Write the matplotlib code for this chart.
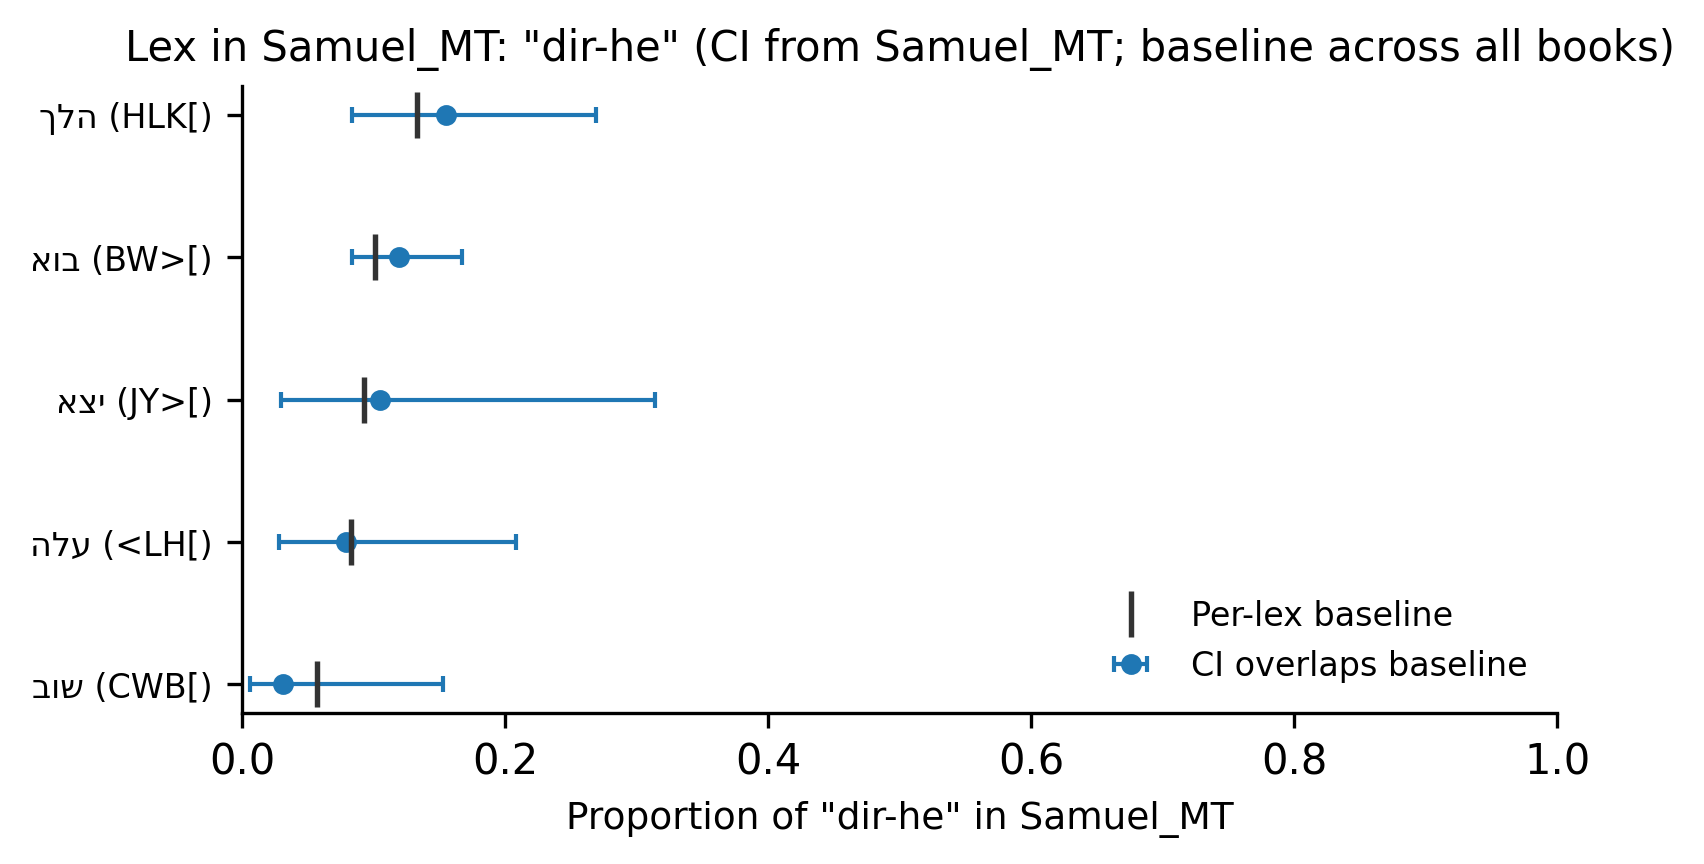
import numpy as np
import matplotlib.pyplot as plt

book = 'Samuel_MT'
feature = 'dir-he'

# --- Lexemes (Hebrew in logical order) and their ETCBC codes ---
lexWords = ['הלך', 'בוא', 'יצא', 'עלה', 'שוב']
lexCodes = ['HLK[', 'BW>[', 'JY>[', '<LH[', 'CWB[']

# --- Proportions ---
propBook = [0.155, 0.119, 0.105, 0.079, 0.031]
ciLow = [0.084, 0.084, 0.030, 0.028, 0.006]
ciHigh = [0.269, 0.167, 0.314, 0.208, 0.153]
baseline = [0.133, 0.101, 0.093, 0.083, 0.057]

# matplotlib has no bidi support, so reverse the Hebrew for display
labels = [f'{w[::-1]} ({c})' for w, c in zip(lexWords, lexCodes)]

propBook = np.array(propBook)
errLow = propBook - np.array(ciLow)
errHigh = np.array(ciHigh) - propBook
yPos = np.arange(len(labels))

fig, ax = plt.subplots(figsize=(5.68, 2.88), dpi=300)

ax.errorbar(propBook, yPos, xerr=[errLow, errHigh], fmt='o', color='#1f77b4',
            ecolor='#1f77b4', markersize=4, elinewidth=1, capsize=2,
            capthick=1, label='CI overlaps baseline', zorder=2)
ax.plot(baseline, yPos, linestyle='none', marker='|', color='#333333',
        markersize=11, markeredgewidth=1.3, label='Per-lex baseline', zorder=3)

ax.set_yticks(yPos)
ax.set_yticklabels(labels, fontsize=8)
ax.invert_yaxis()
ax.set_xlim(0, 1)
ax.tick_params(axis='x', labelsize=10)
ax.set_xlabel(f'Proportion of "{feature}" in {book}', fontsize=9)
ax.set_title(f'Lex in {book}: "{feature}" (CI from {book}; baseline across all books)',
             fontsize=10)
ax.spines['top'].set_visible(False)
ax.spines['right'].set_visible(False)

ax.legend(loc='lower right', frameon=False, fontsize=8)

plt.subplots_adjust(left=0.142, right=0.914, top=0.9, bottom=0.175)
plt.savefig('out.png', dpi=300)
plt.close()
